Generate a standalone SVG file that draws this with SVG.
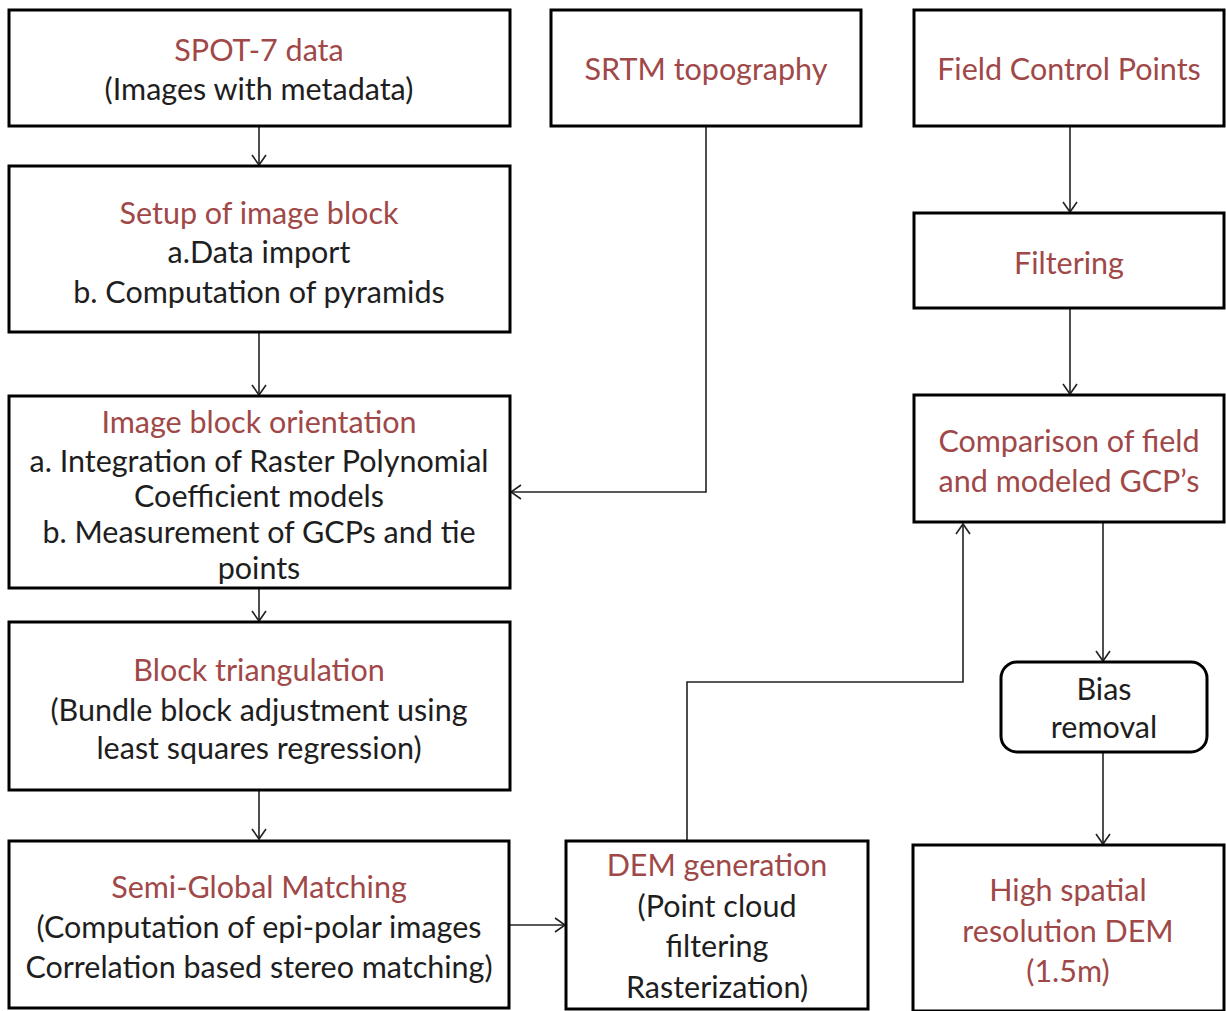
<svg xmlns="http://www.w3.org/2000/svg" width="1226" height="1011" viewBox="0 0 1226 1011">
<style>
.box{fill:#fff;stroke:#000;stroke-width:3}
.t{font-family:Lato,"Liberation Sans",sans-serif;font-size:30.5px;text-anchor:middle;fill:#1e1e1e}
.r{fill:#a04848}
.c{fill:none;stroke:#222;stroke-width:1.6}
</style>
<defs>
<marker id="ah" markerUnits="userSpaceOnUse" markerWidth="14" markerHeight="16" refX="11" refY="8" orient="auto">
<path d="M1,1 L11,8 L1,15" fill="none" stroke="#222" stroke-width="1.6"/>
</marker>
</defs>
<rect width="1226" height="1011" fill="#fff"/>
<g id="connectors">
<line class="c" x1="259" y1="126" x2="259" y2="165" marker-end="url(#ah)"/>
<line class="c" x1="259" y1="332" x2="259" y2="395" marker-end="url(#ah)"/>
<line class="c" x1="259" y1="588" x2="259" y2="621" marker-end="url(#ah)"/>
<line class="c" x1="259" y1="790" x2="259" y2="839" marker-end="url(#ah)"/>
<polyline class="c" points="706,126 706,492 511,492" marker-end="url(#ah)"/>
<line class="c" x1="510" y1="925" x2="565" y2="925" marker-end="url(#ah)"/>
<line class="c" x1="1070" y1="126" x2="1070" y2="212" marker-end="url(#ah)"/>
<line class="c" x1="1070" y1="308" x2="1070" y2="394" marker-end="url(#ah)"/>
<polyline class="c" points="687,841 687,682 963,682 963,524" marker-end="url(#ah)"/>
<line class="c" x1="1103" y1="523" x2="1103" y2="661" marker-end="url(#ah)"/>
<line class="c" x1="1103" y1="752" x2="1103" y2="844" marker-end="url(#ah)"/>
</g>
<g id="spot7">
<rect class="box" x="9" y="10" width="501" height="116"/>
<text class="t r" x="259" y="61">SPOT-7 data</text>
<text class="t" x="259" y="100">(Images with metadata)</text>
</g>
<g id="setup">
<rect class="box" x="9" y="166" width="501" height="166"/>
<text class="t r" x="259" y="224">Setup of image block</text>
<text class="t" x="259" y="263">a.Data import</text>
<text class="t" x="259" y="303">b. Computation of pyramids</text>
</g>
<g id="orientation">
<rect class="box" x="9" y="396" width="501" height="192"/>
<text class="t r" x="259" y="433">Image block orientation</text>
<text class="t" x="259" y="472">a. Integration of Raster Polynomial</text>
<text class="t" x="259" y="507">Coefficient models</text>
<text class="t" x="259" y="543">b. Measurement of GCPs and tie</text>
<text class="t" x="259" y="579">points</text>
</g>
<g id="triangulation">
<rect class="box" x="9" y="622" width="501" height="168"/>
<text class="t r" x="259" y="681">Block triangulation</text>
<text class="t" x="259" y="721">(Bundle block adjustment using</text>
<text class="t" x="259" y="759">least squares regression)</text>
</g>
<g id="sgm">
<rect class="box" x="9" y="841" width="500" height="167"/>
<text class="t r" x="259" y="898">Semi-Global Matching</text>
<text class="t" x="259" y="938">(Computation of epi-polar images</text>
<text class="t" x="259" y="978">Correlation based stereo matching)</text>
</g>
<g id="srtm">
<rect class="box" x="551" y="10" width="310" height="116"/>
<text class="t r" x="706" y="80">SRTM topography</text>
</g>
<g id="fcp">
<rect class="box" x="914" y="10" width="310" height="116"/>
<text class="t r" x="1069" y="80">Field Control Points</text>
</g>
<g id="filtering">
<rect class="box" x="914" y="213" width="310" height="95"/>
<text class="t r" x="1069" y="274">Filtering</text>
</g>
<g id="comparison">
<rect class="box" x="914" y="395" width="310" height="127"/>
<text class="t r" x="1069" y="452">Comparison of field</text>
<text class="t r" x="1069" y="492">and modeled GCP’s</text>
</g>
<g id="bias">
<rect class="box" x="1001" y="662" width="206" height="90" rx="16" ry="16"/>
<text class="t" x="1104" y="700">Bias</text>
<text class="t" x="1104" y="738">removal</text>
</g>
<g id="dem">
<rect class="box" x="566" y="841" width="302" height="168"/>
<text class="t r" x="717" y="876">DEM generation</text>
<text class="t" x="717" y="917">(Point cloud</text>
<text class="t" x="717" y="957">filtering</text>
<text class="t" x="717" y="998">Rasterization)</text>
</g>
<g id="highres">
<rect class="box" x="913" y="845" width="311" height="166"/>
<text class="t r" x="1068" y="901">High spatial</text>
<text class="t r" x="1068" y="942">resolution DEM</text>
<text class="t r" x="1068" y="982">(1.5m)</text>
</g>
</svg>
